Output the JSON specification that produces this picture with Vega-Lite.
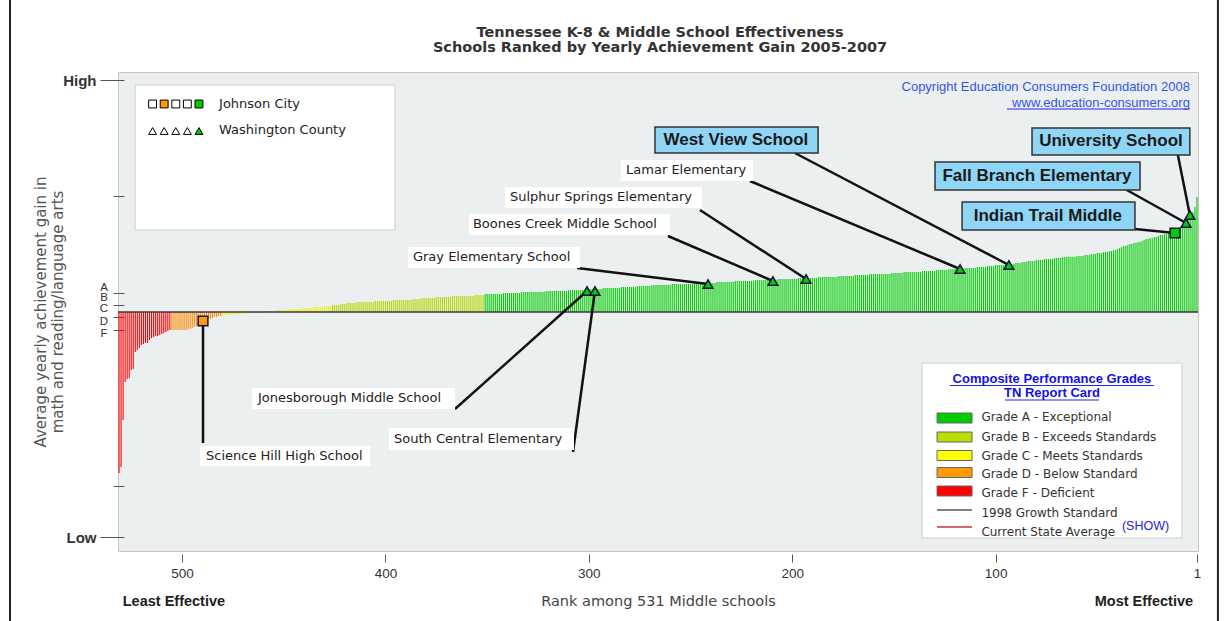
{
"$schema": "https://vega.github.io/schema/vega-lite/v6.json",
"width": 1080, "height": 479,
"autosize": {"type": "none"},
"padding": {"left": 118, "top": 72, "right": 30, "bottom": 70},
"background": "#ffffff",
"config": {"view": {"fill": "#ECEFF0", "stroke": "#c4c4c4", "strokeWidth": 1}, "font": "Liberation Sans"},
"datasets": {
"bars": [
{"r":1,"v":115,"g":"A"},{"r":2,"v":105,"g":"A"},{"r":3,"v":100,"g":"A"},{"r":4,"v":96,"g":"A"},{"r":5,"v":93,"g":"A"},{"r":6,"v":90,"g":"A"},{"r":7,"v":88,"g":"A"},{"r":8,"v":86,"g":"A"},{"r":9,"v":85,"g":"A"},{"r":10,"v":84,"g":"A"},
{"r":11,"v":81,"g":"A"},{"r":12,"v":80,"g":"A"},{"r":13,"v":80,"g":"A"},{"r":14,"v":79,"g":"A"},{"r":15,"v":79,"g":"A"},{"r":16,"v":78,"g":"A"},{"r":17,"v":78,"g":"A"},{"r":18,"v":77,"g":"A"},{"r":19,"v":77,"g":"A"},{"r":20,"v":76,"g":"A"},
{"r":21,"v":75,"g":"A"},{"r":22,"v":75,"g":"A"},{"r":23,"v":74,"g":"A"},{"r":24,"v":74,"g":"A"},{"r":25,"v":73,"g":"A"},{"r":26,"v":73,"g":"A"},{"r":27,"v":72,"g":"A"},{"r":28,"v":71,"g":"A"},{"r":29,"v":70,"g":"A"},{"r":30,"v":70,"g":"A"},
{"r":31,"v":69,"g":"A"},{"r":32,"v":69,"g":"A"},{"r":33,"v":68,"g":"A"},{"r":34,"v":68,"g":"A"},{"r":35,"v":67,"g":"A"},{"r":36,"v":66,"g":"A"},{"r":37,"v":66,"g":"A"},{"r":38,"v":65,"g":"A"},{"r":39,"v":64,"g":"A"},{"r":40,"v":63,"g":"A"},
{"r":41,"v":62,"g":"A"},{"r":42,"v":62,"g":"A"},{"r":43,"v":61,"g":"A"},{"r":44,"v":61,"g":"A"},{"r":45,"v":60,"g":"A"},{"r":46,"v":60,"g":"A"},{"r":47,"v":60,"g":"A"},{"r":48,"v":59,"g":"A"},{"r":49,"v":59,"g":"A"},{"r":50,"v":59,"g":"A"},
{"r":51,"v":58,"g":"A"},{"r":52,"v":58,"g":"A"},{"r":53,"v":58,"g":"A"},{"r":54,"v":57,"g":"A"},{"r":55,"v":57,"g":"A"},{"r":56,"v":57,"g":"A"},{"r":57,"v":56,"g":"A"},{"r":58,"v":56,"g":"A"},{"r":59,"v":56,"g":"A"},{"r":60,"v":56,"g":"A"},
{"r":61,"v":55,"g":"A"},{"r":62,"v":55,"g":"A"},{"r":63,"v":55,"g":"A"},{"r":64,"v":55.5,"g":"A"},{"r":65,"v":55,"g":"A"},{"r":66,"v":55,"g":"A"},{"r":67,"v":55,"g":"A"},{"r":68,"v":54,"g":"A"},{"r":69,"v":54,"g":"A"},{"r":70,"v":54,"g":"A"},
{"r":71,"v":54,"g":"A"},{"r":72,"v":53,"g":"A"},{"r":73,"v":53,"g":"A"},{"r":74,"v":53,"g":"A"},{"r":75,"v":53,"g":"A"},{"r":76,"v":53,"g":"A"},{"r":77,"v":52,"g":"A"},{"r":78,"v":52,"g":"A"},{"r":79,"v":52,"g":"A"},{"r":80,"v":52,"g":"A"},
{"r":81,"v":51,"g":"A"},{"r":82,"v":51,"g":"A"},{"r":83,"v":51,"g":"A"},{"r":84,"v":51,"g":"A"},{"r":85,"v":50,"g":"A"},{"r":86,"v":50,"g":"A"},{"r":87,"v":50,"g":"A"},{"r":88,"v":49,"g":"A"},{"r":89,"v":49,"g":"A"},{"r":90,"v":49,"g":"A"},
{"r":91,"v":48,"g":"A"},{"r":92,"v":48,"g":"A"},{"r":93,"v":48,"g":"A"},{"r":94,"v":48,"g":"A"},{"r":95,"v":48,"g":"A"},{"r":96,"v":47,"g":"A"},{"r":97,"v":47,"g":"A"},{"r":98,"v":47,"g":"A"},{"r":99,"v":47,"g":"A"},{"r":100,"v":47,"g":"A"},
{"r":101,"v":46,"g":"A"},{"r":102,"v":46,"g":"A"},{"r":103,"v":46,"g":"A"},{"r":104,"v":46,"g":"A"},{"r":105,"v":45,"g":"A"},{"r":106,"v":45,"g":"A"},{"r":107,"v":45,"g":"A"},{"r":108,"v":45,"g":"A"},{"r":109,"v":45,"g":"A"},{"r":110,"v":44,"g":"A"},
{"r":111,"v":44,"g":"A"},{"r":112,"v":44,"g":"A"},{"r":113,"v":44,"g":"A"},{"r":114,"v":44,"g":"A"},{"r":115,"v":44,"g":"A"},{"r":116,"v":43,"g":"A"},{"r":117,"v":43,"g":"A"},{"r":118,"v":43,"g":"A"},{"r":119,"v":43,"g":"A"},{"r":120,"v":43,"g":"A"},
{"r":121,"v":43,"g":"A"},{"r":122,"v":43,"g":"A"},{"r":123,"v":43,"g":"A"},{"r":124,"v":42,"g":"A"},{"r":125,"v":42,"g":"A"},{"r":126,"v":42,"g":"A"},{"r":127,"v":42,"g":"A"},{"r":128,"v":42,"g":"A"},{"r":129,"v":42,"g":"A"},{"r":130,"v":41,"g":"A"},
{"r":131,"v":41,"g":"A"},{"r":132,"v":41,"g":"A"},{"r":133,"v":41,"g":"A"},{"r":134,"v":41,"g":"A"},{"r":135,"v":41,"g":"A"},{"r":136,"v":41,"g":"A"},{"r":137,"v":40,"g":"A"},{"r":138,"v":40,"g":"A"},{"r":139,"v":40,"g":"A"},{"r":140,"v":40,"g":"A"},
{"r":141,"v":40,"g":"A"},{"r":142,"v":40,"g":"A"},{"r":143,"v":40,"g":"A"},{"r":144,"v":40,"g":"A"},{"r":145,"v":40,"g":"A"},{"r":146,"v":39,"g":"A"},{"r":147,"v":39,"g":"A"},{"r":148,"v":39,"g":"A"},{"r":149,"v":39,"g":"A"},{"r":150,"v":39,"g":"A"},
{"r":151,"v":39,"g":"A"},{"r":152,"v":38,"g":"A"},{"r":153,"v":38,"g":"A"},{"r":154,"v":38,"g":"A"},{"r":155,"v":38,"g":"A"},{"r":156,"v":38,"g":"A"},{"r":157,"v":38,"g":"A"},{"r":158,"v":38,"g":"A"},{"r":159,"v":38,"g":"A"},{"r":160,"v":38,"g":"A"},
{"r":161,"v":38,"g":"A"},{"r":162,"v":38,"g":"A"},{"r":163,"v":37,"g":"A"},{"r":164,"v":37,"g":"A"},{"r":165,"v":37,"g":"A"},{"r":166,"v":37,"g":"A"},{"r":167,"v":37,"g":"A"},{"r":168,"v":37,"g":"A"},{"r":169,"v":37,"g":"A"},{"r":170,"v":36,"g":"A"},
{"r":171,"v":36,"g":"A"},{"r":172,"v":36,"g":"A"},{"r":173,"v":36,"g":"A"},{"r":174,"v":36,"g":"A"},{"r":175,"v":36,"g":"A"},{"r":176,"v":36,"g":"A"},{"r":177,"v":36,"g":"A"},{"r":178,"v":35,"g":"A"},{"r":179,"v":35,"g":"A"},{"r":180,"v":35,"g":"A"},
{"r":181,"v":35,"g":"A"},{"r":182,"v":35,"g":"A"},{"r":183,"v":35,"g":"A"},{"r":184,"v":35,"g":"A"},{"r":185,"v":35,"g":"A"},{"r":186,"v":35,"g":"A"},{"r":187,"v":35,"g":"A"},{"r":188,"v":34,"g":"A"},{"r":189,"v":34,"g":"A"},{"r":190,"v":34,"g":"A"},
{"r":191,"v":34,"g":"A"},{"r":192,"v":34,"g":"A"},{"r":193,"v":34,"g":"A"},{"r":194,"v":34,"g":"A"},{"r":195,"v":34,"g":"A"},{"r":196,"v":34,"g":"A"},{"r":197,"v":34,"g":"A"},{"r":198,"v":33,"g":"A"},{"r":199,"v":33,"g":"A"},{"r":200,"v":33,"g":"A"},
{"r":201,"v":33,"g":"A"},{"r":202,"v":33,"g":"A"},{"r":203,"v":33,"g":"A"},{"r":204,"v":33,"g":"A"},{"r":205,"v":33,"g":"A"},{"r":206,"v":33,"g":"A"},{"r":207,"v":33,"g":"A"},{"r":208,"v":32,"g":"A"},{"r":209,"v":32,"g":"A"},{"r":210,"v":32,"g":"A"},
{"r":211,"v":32,"g":"A"},{"r":212,"v":32,"g":"A"},{"r":213,"v":32,"g":"A"},{"r":214,"v":32,"g":"A"},{"r":215,"v":32,"g":"A"},{"r":216,"v":32,"g":"A"},{"r":217,"v":32,"g":"A"},{"r":218,"v":32,"g":"A"},{"r":219,"v":31,"g":"A"},{"r":220,"v":31,"g":"A"},
{"r":221,"v":31,"g":"A"},{"r":222,"v":31,"g":"A"},{"r":223,"v":31,"g":"A"},{"r":224,"v":31,"g":"A"},{"r":225,"v":31,"g":"A"},{"r":226,"v":31,"g":"A"},{"r":227,"v":31,"g":"A"},{"r":228,"v":31,"g":"A"},{"r":229,"v":30,"g":"A"},{"r":230,"v":30,"g":"A"},
{"r":231,"v":30,"g":"A"},{"r":232,"v":30,"g":"A"},{"r":233,"v":30,"g":"A"},{"r":234,"v":30,"g":"A"},{"r":235,"v":30,"g":"A"},{"r":236,"v":30,"g":"A"},{"r":237,"v":30,"g":"A"},{"r":238,"v":29,"g":"A"},{"r":239,"v":29,"g":"A"},{"r":240,"v":29,"g":"A"},
{"r":241,"v":29,"g":"A"},{"r":242,"v":29,"g":"A"},{"r":243,"v":29,"g":"A"},{"r":244,"v":29,"g":"A"},{"r":245,"v":29,"g":"A"},{"r":246,"v":29,"g":"A"},{"r":247,"v":29,"g":"A"},{"r":248,"v":29,"g":"A"},{"r":249,"v":28,"g":"A"},{"r":250,"v":28,"g":"A"},
{"r":251,"v":28,"g":"A"},{"r":252,"v":28,"g":"A"},{"r":253,"v":28,"g":"A"},{"r":254,"v":28,"g":"A"},{"r":255,"v":28,"g":"A"},{"r":256,"v":28,"g":"A"},{"r":257,"v":28,"g":"A"},{"r":258,"v":28,"g":"A"},{"r":259,"v":28,"g":"A"},{"r":260,"v":27,"g":"A"},
{"r":261,"v":27,"g":"A"},{"r":262,"v":27,"g":"A"},{"r":263,"v":27,"g":"A"},{"r":264,"v":27,"g":"A"},{"r":265,"v":27,"g":"A"},{"r":266,"v":27,"g":"A"},{"r":267,"v":27,"g":"A"},{"r":268,"v":27,"g":"A"},{"r":269,"v":27,"g":"A"},{"r":270,"v":26,"g":"A"},
{"r":271,"v":26,"g":"A"},{"r":272,"v":26,"g":"A"},{"r":273,"v":26,"g":"A"},{"r":274,"v":26,"g":"A"},{"r":275,"v":26,"g":"A"},{"r":276,"v":26,"g":"A"},{"r":277,"v":25,"g":"A"},{"r":278,"v":25,"g":"A"},{"r":279,"v":25,"g":"A"},{"r":280,"v":25,"g":"A"},
{"r":281,"v":25,"g":"A"},{"r":282,"v":25,"g":"A"},{"r":283,"v":25,"g":"A"},{"r":284,"v":25,"g":"A"},{"r":285,"v":24,"g":"A"},{"r":286,"v":24,"g":"A"},{"r":287,"v":24,"g":"A"},{"r":288,"v":24,"g":"A"},{"r":289,"v":24,"g":"A"},{"r":290,"v":24,"g":"A"},
{"r":291,"v":24,"g":"A"},{"r":292,"v":24,"g":"A"},{"r":293,"v":24,"g":"A"},{"r":294,"v":23,"g":"A"},{"r":295,"v":23,"g":"A"},{"r":296,"v":23,"g":"A"},{"r":297,"v":23,"g":"A"},{"r":298,"v":23,"g":"A"},{"r":299,"v":23,"g":"A"},{"r":300,"v":23,"g":"A"},
{"r":301,"v":23,"g":"A"},{"r":302,"v":22,"g":"A"},{"r":303,"v":22,"g":"A"},{"r":304,"v":22,"g":"A"},{"r":305,"v":22,"g":"A"},{"r":306,"v":22,"g":"A"},{"r":307,"v":22,"g":"A"},{"r":308,"v":22,"g":"A"},{"r":309,"v":22,"g":"A"},{"r":310,"v":22,"g":"A"},
{"r":311,"v":21,"g":"A"},{"r":312,"v":21,"g":"A"},{"r":313,"v":21,"g":"A"},{"r":314,"v":21,"g":"A"},{"r":315,"v":21,"g":"A"},{"r":316,"v":21,"g":"A"},{"r":317,"v":21,"g":"A"},{"r":318,"v":21,"g":"A"},{"r":319,"v":21,"g":"A"},{"r":320,"v":21,"g":"A"},
{"r":321,"v":21,"g":"A"},{"r":322,"v":20,"g":"A"},{"r":323,"v":20,"g":"A"},{"r":324,"v":20,"g":"A"},{"r":325,"v":20,"g":"A"},{"r":326,"v":20,"g":"A"},{"r":327,"v":20,"g":"A"},{"r":328,"v":20,"g":"A"},{"r":329,"v":20,"g":"A"},{"r":330,"v":20,"g":"A"},
{"r":331,"v":20,"g":"A"},{"r":332,"v":20,"g":"A"},{"r":333,"v":20,"g":"A"},{"r":334,"v":19,"g":"A"},{"r":335,"v":19,"g":"A"},{"r":336,"v":19,"g":"A"},{"r":337,"v":19,"g":"A"},{"r":338,"v":19,"g":"A"},{"r":339,"v":19,"g":"A"},{"r":340,"v":19,"g":"A"},
{"r":341,"v":19,"g":"A"},{"r":342,"v":19,"g":"A"},{"r":343,"v":18,"g":"A"},{"r":344,"v":18,"g":"A"},{"r":345,"v":18,"g":"A"},{"r":346,"v":18,"g":"A"},{"r":347,"v":18,"g":"A"},{"r":348,"v":18,"g":"A"},{"r":349,"v":18,"g":"A"},{"r":350,"v":18,"g":"A"},
{"r":351,"v":18,"g":"A"},{"r":352,"v":17,"g":"B"},{"r":353,"v":17,"g":"B"},{"r":354,"v":17,"g":"B"},{"r":355,"v":17,"g":"B"},{"r":356,"v":17,"g":"B"},{"r":357,"v":16,"g":"B"},{"r":358,"v":16,"g":"B"},{"r":359,"v":16,"g":"B"},{"r":360,"v":16,"g":"B"},
{"r":361,"v":16,"g":"B"},{"r":362,"v":16,"g":"B"},{"r":363,"v":16,"g":"B"},{"r":364,"v":16,"g":"B"},{"r":365,"v":16,"g":"B"},{"r":366,"v":16,"g":"B"},{"r":367,"v":16,"g":"B"},{"r":368,"v":15,"g":"B"},{"r":369,"v":15,"g":"B"},{"r":370,"v":15,"g":"B"},
{"r":371,"v":15,"g":"B"},{"r":372,"v":15,"g":"B"},{"r":373,"v":15,"g":"B"},{"r":374,"v":15,"g":"B"},{"r":375,"v":15,"g":"B"},{"r":376,"v":14,"g":"B"},{"r":377,"v":14,"g":"B"},{"r":378,"v":14,"g":"B"},{"r":379,"v":14,"g":"B"},{"r":380,"v":14,"g":"B"},
{"r":381,"v":14,"g":"B"},{"r":382,"v":14,"g":"B"},{"r":383,"v":13,"g":"B"},{"r":384,"v":13,"g":"B"},{"r":385,"v":13,"g":"B"},{"r":386,"v":13,"g":"B"},{"r":387,"v":12,"g":"B"},{"r":388,"v":12,"g":"B"},{"r":389,"v":12,"g":"B"},{"r":390,"v":12,"g":"B"},
{"r":391,"v":12,"g":"B"},{"r":392,"v":12,"g":"B"},{"r":393,"v":12,"g":"B"},{"r":394,"v":12,"g":"B"},{"r":395,"v":12,"g":"B"},{"r":396,"v":12,"g":"B"},{"r":397,"v":11,"g":"B"},{"r":398,"v":11,"g":"B"},{"r":399,"v":11,"g":"B"},{"r":400,"v":11,"g":"B"},
{"r":401,"v":11,"g":"B"},{"r":402,"v":11,"g":"B"},{"r":403,"v":11,"g":"B"},{"r":404,"v":11,"g":"B"},{"r":405,"v":11,"g":"B"},{"r":406,"v":10,"g":"B"},{"r":407,"v":10,"g":"B"},{"r":408,"v":10,"g":"B"},{"r":409,"v":10,"g":"B"},{"r":410,"v":10,"g":"B"},
{"r":411,"v":10,"g":"B"},{"r":412,"v":10,"g":"B"},{"r":413,"v":10,"g":"B"},{"r":414,"v":10,"g":"B"},{"r":415,"v":9,"g":"B"},{"r":416,"v":9,"g":"B"},{"r":417,"v":9,"g":"B"},{"r":418,"v":9,"g":"B"},{"r":419,"v":9,"g":"B"},{"r":420,"v":8,"g":"B"},
{"r":421,"v":8,"g":"B"},{"r":422,"v":8,"g":"B"},{"r":423,"v":7,"g":"B"},{"r":424,"v":7,"g":"B"},{"r":425,"v":7,"g":"B"},{"r":426,"v":7,"g":"B"},{"r":427,"v":6,"g":"C"},{"r":428,"v":6,"g":"C"},{"r":429,"v":6,"g":"C"},{"r":430,"v":6,"g":"C"},
{"r":431,"v":5,"g":"C"},{"r":432,"v":5,"g":"C"},{"r":433,"v":5,"g":"C"},{"r":434,"v":5,"g":"C"},{"r":435,"v":5,"g":"C"},{"r":436,"v":4,"g":"C"},{"r":437,"v":4,"g":"C"},{"r":438,"v":4,"g":"C"},{"r":439,"v":4,"g":"C"},{"r":440,"v":4,"g":"C"},
{"r":441,"v":4,"g":"C"},{"r":442,"v":3,"g":"C"},{"r":443,"v":3,"g":"C"},{"r":444,"v":3,"g":"C"},{"r":445,"v":3,"g":"C"},{"r":446,"v":3,"g":"C"},{"r":447,"v":3,"g":"C"},{"r":448,"v":2,"g":"C"},{"r":449,"v":2,"g":"C"},{"r":450,"v":2,"g":"C"},
{"r":451,"v":2,"g":"C"},{"r":452,"v":2,"g":"C"},{"r":453,"v":2,"g":"C"},{"r":454,"v":1,"g":"C"},{"r":455,"v":1,"g":"C"},{"r":456,"v":1,"g":"C"},{"r":457,"v":1,"g":"C"},{"r":458,"v":1,"g":"C"},{"r":459,"v":0.5,"g":"C"},{"r":460,"v":0.5,"g":"C"},
{"r":461,"v":-0.5,"g":"C"},{"r":462,"v":-0.5,"g":"C"},{"r":463,"v":-1,"g":"C"},{"r":464,"v":-1,"g":"C"},{"r":465,"v":-1,"g":"C"},{"r":466,"v":-1,"g":"C"},{"r":467,"v":-1.5,"g":"C"},{"r":468,"v":-1.5,"g":"C"},{"r":469,"v":-1.5,"g":"C"},{"r":470,"v":-2,"g":"C"},
{"r":471,"v":-2,"g":"C"},{"r":472,"v":-2,"g":"C"},{"r":473,"v":-2,"g":"C"},{"r":474,"v":-2.5,"g":"C"},{"r":475,"v":-2.5,"g":"C"},{"r":476,"v":-3,"g":"C"},{"r":477,"v":-3,"g":"C"},{"r":478,"v":-3,"g":"C"},{"r":479,"v":-3.5,"g":"C"},{"r":480,"v":-3.5,"g":"C"},
{"r":481,"v":-4,"g":"D"},{"r":482,"v":-4,"g":"D"},{"r":483,"v":-5,"g":"D"},{"r":484,"v":-5,"g":"D"},{"r":485,"v":-6,"g":"D"},{"r":486,"v":-7,"g":"D"},{"r":487,"v":-7,"g":"D"},{"r":488,"v":-8,"g":"D"},{"r":489,"v":-9,"g":"D"},{"r":490,"v":-10,"g":"D"},
{"r":491,"v":-12,"g":"D"},{"r":492,"v":-13,"g":"D"},{"r":493,"v":-14,"g":"D"},{"r":494,"v":-15,"g":"D"},{"r":495,"v":-16,"g":"D"},{"r":496,"v":-17,"g":"D"},{"r":497,"v":-17,"g":"D"},{"r":498,"v":-18,"g":"D"},{"r":499,"v":-18,"g":"D"},{"r":500,"v":-18,"g":"D"},
{"r":501,"v":-18,"g":"D"},{"r":502,"v":-18,"g":"D"},{"r":503,"v":-18,"g":"D"},{"r":504,"v":-18,"g":"D"},{"r":505,"v":-18,"g":"D"},{"r":506,"v":-18,"g":"F"},{"r":507,"v":-19,"g":"F"},{"r":508,"v":-20,"g":"F"},{"r":509,"v":-21,"g":"F"},{"r":510,"v":-22,"g":"F"},
{"r":511,"v":-23,"g":"F"},{"r":512,"v":-24,"g":"F"},{"r":513,"v":-24,"g":"F"},{"r":514,"v":-25,"g":"F"},{"r":515,"v":-26,"g":"F"},{"r":516,"v":-28,"g":"F"},{"r":517,"v":-31,"g":"F"},{"r":518,"v":-31,"g":"F"},{"r":519,"v":-32,"g":"F"},{"r":520,"v":-33,"g":"F"},
{"r":521,"v":-36,"g":"F"},{"r":522,"v":-38,"g":"F"},{"r":523,"v":-40,"g":"F"},{"r":524,"v":-57,"g":"F"},{"r":525,"v":-58,"g":"F"},{"r":526,"v":-66,"g":"F"},{"r":527,"v":-67,"g":"F"},{"r":528,"v":-70,"g":"F"},{"r":529,"v":-108,"g":"F"},{"r":530,"v":-155,"g":"F"},
{"r":531,"v":-161,"g":"F"}
],
"seg": [
{"k":"base","r":531.5,"v":0,"r2":0.5,"v2":0},
{"k":"border","r":584.6,"v":312,"r2":584.6,"v2":-309},
{"k":"border","r":-9.3,"v":312,"r2":-9.3,"v2":-309},
{"k":"ann","r":489.7,"v":-131,"r2":489.7,"v2":-9},
{"k":"ann","r":365.8,"v":-97,"r2":300.9,"v2":21},
{"k":"ann","r":307.8,"v":-140,"r2":297,"v2":21},
{"k":"ann","r":305.8,"v":44,"r2":241.4,"v2":28},
{"k":"ann","r":261.1,"v":76,"r2":209.5,"v2":31},
{"k":"ann","r":245.4,"v":102,"r2":193.2,"v2":33},
{"k":"ann","r":220.8,"v":131,"r2":117.5,"v2":43},
{"k":"ann","r":198.7,"v":159,"r2":93.5,"v2":47},
{"k":"ann","r":10.4,"v":157,"r2":4.5,"v2":97},
{"k":"ann","r":36.4,"v":123,"r2":6.4,"v2":89},
{"k":"ann","r":31.5,"v":83,"r2":11.8,"v2":79},
{"k":"ul","r":122.5,"v":-73.5,"r2":22.2,"v2":-73.5},
{"k":"ul","r":95.4,"v":-88,"r2":49.2,"v2":-88},
{"k":"ul","r":94.4,"v":203,"r2":4.5,"v2":203},
{"k":"lgray","r":128.8,"v":-198,"r2":111.6,"v2":-198},
{"k":"lred","r":128.8,"v":-215,"r2":111.6,"v2":-215}
],
"box": [
{"k":"panel","r":523.1,"v":227,"r2":395.3,"v2":82},
{"k":"panel","r":136.2,"v":-51,"r2":8.4,"v2":-226},
{"k":"w","r":491.2,"v":-134,"r2":407.6,"v2":-154},
{"k":"w","r":465.6,"v":-76,"r2":365.8,"v2":-97},
{"k":"w","r":398.3,"v":-116,"r2":307.3,"v2":-138},
{"k":"w","r":388.9,"v":65,"r2":304.4,"v2":44},
{"k":"w","r":358.9,"v":98,"r2":260.1,"v2":77},
{"k":"w","r":341.2,"v":125,"r2":244.4,"v2":104},
{"k":"w","r":284.2,"v":152,"r2":219.3,"v2":131},
{"k":"b","r":267.5,"v":185,"r2":187.3,"v2":159},
{"k":"b","r":82.1,"v":184,"r2":4.5,"v2":157},
{"k":"b","r":129.8,"v":150,"r2":29.0,"v2":122},
{"k":"b","r":116.5,"v":110,"r2":31.5,"v2":82},
{"k":"sw","g":"A","r":128.8,"v":-101,"r2":111.6,"v2":-111},
{"k":"sw","g":"B","r":128.8,"v":-120,"r2":111.6,"v2":-130},
{"k":"sw","g":"C","r":128.8,"v":-138.5,"r2":111.6,"v2":-148.5},
{"k":"sw","g":"D","r":128.8,"v":-155.5,"r2":111.6,"v2":-165.5},
{"k":"sw","g":"F","r":128.8,"v":-174,"r2":111.6,"v2":-184}
],
"pts": [
{"grp":"chart","school":"Science Hill High School","k":"Johnson City","g":"D","r":489.7,"v":-9},
{"grp":"chart","school":"Indian Trail Middle","k":"Johnson City","g":"A","r":11.8,"v":79},
{"grp":"chart","school":"Jonesborough Middle School","k":"Washington County","g":"A","r":300.9,"v":21},
{"grp":"chart","school":"South Central Elementary","k":"Washington County","g":"A","r":297,"v":21},
{"grp":"chart","school":"Gray Elementary School","k":"Washington County","g":"A","r":241.4,"v":28},
{"grp":"chart","school":"Boones Creek Middle School","k":"Washington County","g":"A","r":209.5,"v":31},
{"grp":"chart","school":"Sulphur Springs Elementary","k":"Washington County","g":"A","r":193.2,"v":33},
{"grp":"chart","school":"Lamar Elementary","k":"Washington County","g":"A","r":117.5,"v":43},
{"grp":"chart","school":"West View School","k":"Washington County","g":"A","r":93.5,"v":47},
{"grp":"chart","school":"Fall Branch Elementary","k":"Washington County","g":"A","r":6.4,"v":89},
{"grp":"chart","school":"University School","k":"Washington County","g":"A","r":4.5,"v":97},
{"grp":"legend","k":"Johnson City","g":"none","r":514.5,"v":208},
{"grp":"legend","k":"Johnson City","g":"D","r":508.8,"v":208},
{"grp":"legend","k":"Johnson City","g":"none","r":503.1,"v":208},
{"grp":"legend","k":"Johnson City","g":"none","r":497.4,"v":208},
{"grp":"legend","k":"Johnson City","g":"A","r":491.7,"v":208},
{"grp":"legend","k":"Washington County","g":"none","r":514.5,"v":181},
{"grp":"legend","k":"Washington County","g":"none","r":508.8,"v":181},
{"grp":"legend","k":"Washington County","g":"none","r":503.1,"v":181},
{"grp":"legend","k":"Washington County","g":"none","r":497.4,"v":181},
{"grp":"legend","k":"Washington County","g":"A","r":491.7,"v":181}
],
"txt": [
{"k":"title","t":"Tennessee K-8 & Middle School Effectiveness","r":265,"v":279.5},
{"k":"title","t":"Schools Ranked by Yearly Achievement Gain 2005-2007","r":265,"v":264.5},
{"k":"wl","t":"Science Hill High School","r":488.2,"v":-144},
{"k":"wl","t":"Jonesborough Middle School","r":462.7,"v":-86},
{"k":"wl","t":"South Central Elementary","r":395.8,"v":-127},
{"k":"wl","t":"Gray Elementary School","r":386.5,"v":55},
{"k":"wl","t":"Boones Creek Middle School","r":357,"v":88},
{"k":"wl","t":"Sulphur Springs Elementary","r":338.8,"v":115},
{"k":"wl","t":"Lamar Elementary","r":281.7,"v":142},
{"k":"wl","t":"Johnson City","r":481.8,"v":208},
{"k":"wl","t":"Washington County","r":481.8,"v":182},
{"k":"bl","t":"West View School","r":227.7,"v":172},
{"k":"bl","t":"University School","r":43.3,"v":171},
{"k":"bl","t":"Fall Branch Elementary","r":79.7,"v":136},
{"k":"bl","t":"Indian Trail Middle","r":74.3,"v":96},
{"k":"leg","t":"Grade A - Exceptional","r":107,"v":-105},
{"k":"leg","t":"Grade B - Exceeds Standards","r":107,"v":-125},
{"k":"leg","t":"Grade C - Meets Standards","r":107,"v":-144},
{"k":"leg","t":"Grade D - Below Standard","r":107,"v":-162},
{"k":"leg","t":"Grade F - Deficient","r":107,"v":-181},
{"k":"leg","t":"1998 Growth Standard","r":107,"v":-201},
{"k":"leg","t":"Current State Average","r":107,"v":-220},
{"k":"lt","t":"Composite Performance Grades","r":72.3,"v":-67},
{"k":"lt","t":"TN Report Card","r":72.3,"v":-81},
{"k":"show","t":"(SHOW)","r":37.9,"v":-214},
{"k":"copy","t":"Copyright Education Consumers Foundation 2008","r":4.5,"v":225},
{"k":"copy","t":"www.education-consumers.org","r":4.5,"v":209},
{"k":"let","t":"A","r":538.4,"v":24},
{"k":"let","t":"B","r":538.4,"v":14},
{"k":"let","t":"C","r":538.4,"v":3},
{"k":"let","t":"D","r":538.4,"v":-10},
{"k":"let","t":"F","r":538.4,"v":-22},
{"k":"eff","t":"Least Effective","r":504,"v":-290},
{"k":"eff","t":"Most Effective","r":27.1,"v":-290}
]
},
"encoding": {
"x": {"field": "r", "type": "quantitative", "scale": {"domain": [531.5, 0.5], "nice": false, "zero": false},
 "axis": {"values": [500, 400, 300, 200, 100, 1], "format": "d", "title": "Rank among 531 Middle schools", "domain": false, "grid": false, "tickColor": "#555555", "tickSize": 8, "offset": 3, "labelFontSize": 13.5, "labelColor": "#333333", "labelPadding": 4, "labelFont": "Liberation Sans", "titleFont": "DejaVu Sans", "titleFontSize": 14.5, "titleFontWeight": "normal", "titleColor": "#444444", "titlePadding": 15}},
"y": {"field": "v", "type": "quantitative", "scale": {"domain": [-239, 240], "nice": false, "zero": false},
 "axis": {"values": [232, 116, 19, 7, -5, -18, -174, -225], "labelExpr": "datum.value == 232 ? 'High' : (datum.value == -225 ? 'Low' : '')", "title": ["Average yearly achievement gain in", "math and reading/language arts"], "grid": false, "domain": false, "offset": -6, "tickSize": {"condition": {"test": "abs(datum.value) > 200", "value": 24}, "value": 11}, "tickColor": "#555555", "labelFont": "Liberation Sans", "labelFontSize": 15, "labelFontWeight": "bold", "labelColor": "#333333", "labelPadding": 4, "titleFont": "DejaVu Sans", "titleFontSize": 15, "titleFontWeight": "normal", "titleColor": "#555555", "titleLineHeight": 17, "titleX": -84, "titleY": 239.5, "titleBaseline": "middle", "titleAlign": "center", "titleAngle": -90}}
},
"layer": [
{"data": {"name": "bars"}, "mark": {"type": "rule", "strokeWidth": 1.1},
 "encoding": {"y2": {"datum": 0}, "color": {"field": "g", "type": "nominal", "scale": {"domain": ["A","B","C","D","F"], "range": ["#00cc00","#b4d600","#f0f000","#ff8800","#ff0000"]}, "legend": null}}},
{"data": {"name": "seg"}, "transform": [{"filter": "datum.k == 'base'"}], "mark": {"type": "rule", "color": "#3a3a3a", "strokeWidth": 1.5}, "encoding": {"x2": {"field": "r2"}, "y2": {"field": "v2"}}},
{"data": {"name": "seg"}, "transform": [{"filter": "datum.k == 'border'"}], "mark": {"type": "rule", "color": "#222222", "strokeWidth": 2}, "encoding": {"x2": {"field": "r2"}, "y2": {"field": "v2"}}},
{"data": {"name": "box"}, "transform": [{"filter": "datum.k == 'panel'"}], "mark": {"type": "rect", "fill": "#ffffff", "stroke": "#cccccc", "strokeWidth": 1}, "encoding": {"x2": {"field": "r2"}, "y2": {"field": "v2"}}},
{"data": {"name": "box"}, "transform": [{"filter": "datum.k == 'sw'"}], "mark": {"type": "rect", "stroke": "#666666", "strokeWidth": 1},
 "encoding": {"x2": {"field": "r2"}, "y2": {"field": "v2"}, "fill": {"field": "g", "type": "nominal", "scale": {"domain": ["A","B","C","D","F","none"], "range": ["#00cc00","#bbdd00","#ffff00","#ff9900","#ff0000","#ffffff"]}, "legend": null}}},
{"data": {"name": "seg"}, "transform": [{"filter": "datum.k == 'ann'"}], "mark": {"type": "rule", "color": "#111111", "strokeWidth": 2.5}, "encoding": {"x2": {"field": "r2"}, "y2": {"field": "v2"}}},
{"data": {"name": "seg"}, "transform": [{"filter": "datum.k == 'ul'"}], "mark": {"type": "rule", "color": "#2222ee", "strokeWidth": 1}, "encoding": {"x2": {"field": "r2"}, "y2": {"field": "v2"}}},
{"data": {"name": "seg"}, "transform": [{"filter": "datum.k == 'lgray'"}], "mark": {"type": "rule", "color": "#555555", "strokeWidth": 1.5}, "encoding": {"x2": {"field": "r2"}, "y2": {"field": "v2"}}},
{"data": {"name": "seg"}, "transform": [{"filter": "datum.k == 'lred'"}], "mark": {"type": "rule", "color": "#cc3333", "strokeWidth": 1.5}, "encoding": {"x2": {"field": "r2"}, "y2": {"field": "v2"}}},
{"data": {"name": "box"}, "transform": [{"filter": "datum.k == 'w'"}], "mark": {"type": "rect", "fill": "#ffffff"}, "encoding": {"x2": {"field": "r2"}, "y2": {"field": "v2"}}},
{"data": {"name": "box"}, "transform": [{"filter": "datum.k == 'b'"}], "mark": {"type": "rect", "fill": "#8fd5f5", "stroke": "#333333", "strokeWidth": 1.5}, "encoding": {"x2": {"field": "r2"}, "y2": {"field": "v2"}}},
{"data": {"name": "pts"}, "transform": [{"filter": "datum.grp == 'chart'"}], "mark": {"type": "point", "filled": true, "size": 95, "stroke": "#111144", "strokeWidth": 1.5, "opacity": 1},
 "encoding": {"shape": {"field": "k", "type": "nominal", "scale": {"domain": ["Johnson City","Washington County"], "range": ["square","triangle-up"]}, "legend": null},
  "fill": {"field": "g", "type": "nominal", "scale": {"domain": ["A","B","C","D","F","none"], "range": ["#00cc00","#bbdd00","#ffff00","#ff9900","#ff0000","#ffffff"]}, "legend": null}}},
{"data": {"name": "pts"}, "transform": [{"filter": "datum.grp == 'legend'"}], "mark": {"type": "point", "filled": true, "size": 62, "stroke": "#000000", "strokeWidth": 1, "opacity": 1},
 "encoding": {"shape": {"field": "k", "type": "nominal", "scale": {"domain": ["Johnson City","Washington County"], "range": ["square","triangle-up"]}, "legend": null},
  "fill": {"field": "g", "type": "nominal", "scale": {"domain": ["A","B","C","D","F","none"], "range": ["#00cc00","#bbdd00","#ffff00","#ff9900","#ff0000","#ffffff"]}, "legend": null}}},
{"data": {"name": "txt"}, "transform": [{"filter": "datum.k == 'title'"}], "mark": {"type": "text", "font": "DejaVu Sans", "fontSize": 14.5, "fontWeight": "bold", "color": "#333333", "align": "center", "baseline": "middle"}, "encoding": {"text": {"field": "t"}}},
{"data": {"name": "txt"}, "transform": [{"filter": "datum.k == 'wl'"}], "mark": {"type": "text", "font": "DejaVu Sans", "fontSize": 13, "color": "#222222", "align": "left", "baseline": "middle"}, "encoding": {"text": {"field": "t"}}},
{"data": {"name": "txt"}, "transform": [{"filter": "datum.k == 'bl'"}], "mark": {"type": "text", "font": "Liberation Sans", "fontSize": 17, "fontWeight": "bold", "color": "#1a1a1a", "align": "center", "baseline": "middle"}, "encoding": {"text": {"field": "t"}}},
{"data": {"name": "txt"}, "transform": [{"filter": "datum.k == 'leg'"}], "mark": {"type": "text", "font": "DejaVu Sans", "fontSize": 12, "color": "#333333", "align": "left", "baseline": "middle"}, "encoding": {"text": {"field": "t"}}},
{"data": {"name": "txt"}, "transform": [{"filter": "datum.k == 'lt'"}], "mark": {"type": "text", "font": "Liberation Sans", "fontSize": 13, "fontWeight": "bold", "color": "#1111ee", "align": "center", "baseline": "middle"}, "encoding": {"text": {"field": "t"}}},
{"data": {"name": "txt"}, "transform": [{"filter": "datum.k == 'show'"}], "mark": {"type": "text", "font": "Liberation Sans", "fontSize": 12.5, "color": "#2222dd", "align": "left", "baseline": "middle"}, "encoding": {"text": {"field": "t"}}},
{"data": {"name": "txt"}, "transform": [{"filter": "datum.k == 'copy'"}], "mark": {"type": "text", "font": "Liberation Sans", "fontSize": 13, "color": "#3355ee", "align": "right", "baseline": "middle"}, "encoding": {"text": {"field": "t"}}},
{"data": {"name": "txt"}, "transform": [{"filter": "datum.k == 'let'"}], "mark": {"type": "text", "font": "Liberation Sans", "fontSize": 11.5, "color": "#333333", "align": "center", "baseline": "middle"}, "encoding": {"text": {"field": "t"}}},
{"data": {"name": "txt"}, "transform": [{"filter": "datum.k == 'eff'"}], "mark": {"type": "text", "font": "Liberation Sans", "fontSize": 14.5, "fontWeight": "bold", "color": "#222222", "align": "center", "baseline": "middle"}, "encoding": {"text": {"field": "t"}}}
]
}
